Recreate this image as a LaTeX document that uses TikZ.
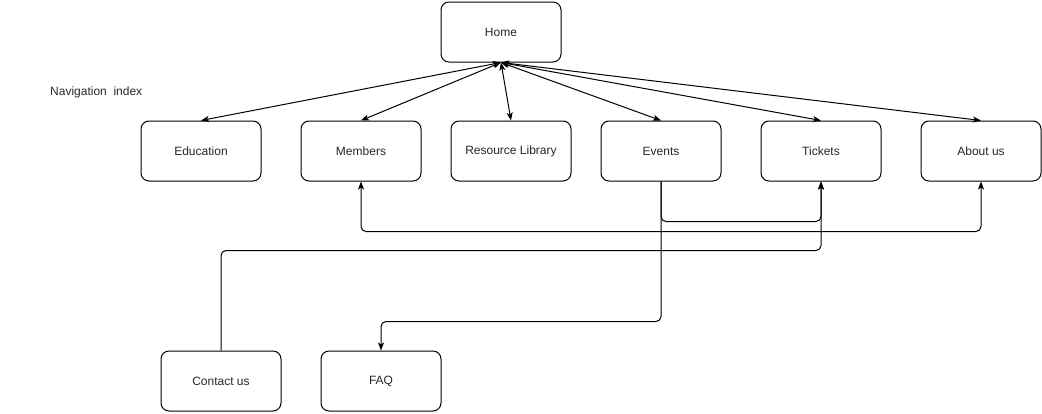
\documentclass[tikz,border=0pt]{standalone}
\usepackage{fontspec}
\setmainfont{Liberation Sans}
\usetikzlibrary{arrows.meta}
\begin{document}
\begin{tikzpicture}[x=1pt,y=-1pt,
  box/.style={draw=black,line width=1pt,rounded corners=8pt,minimum width=120pt,minimum height=60pt,inner sep=0pt,font=\fontsize{12}{14}\selectfont,text=black!85},
  conn/.style={draw=black,line width=1pt,rounded corners=5pt,arrows={-Stealth[length=8pt,width=6pt,inset=2pt]}},
  both/.style={conn,arrows={Stealth[length=8pt,width=6pt,inset=2pt]-Stealth[length=8pt,width=6pt,inset=2pt]}}]
\useasboundingbox (0,0) rectangle (1042,413);
\node[box] (home) at (501,32) {Home};
\node[box] (edu) at (201,151) {Education};
\node[box] (members) at (361,151) {Members};
\node[box] (lib) at (511,151) {Resource Library};
\node[box] (events) at (661,151) {Events};
\node[box] (tickets) at (821,151) {Tickets};
\node[box] (about) at (981,151) {About us};
\node[box] (contact) at (221,381) {Contact us};
\node[box] (faq) at (381,381) {FAQ};
\node[anchor=west,font=\fontsize{12}{14}\selectfont,text=black!85,inner sep=0pt] (nav) at (50,92) {Navigation\ \ index};
\foreach \t in {edu,members,lib,events,tickets,about}
  \draw[both] (home.south) -- (\t.north);
\draw[conn] (events.south) -- ++(0,40) -| (tickets.south);
\draw[both] (members.south) -- ++(0,50) -| (about.south);
\draw[conn] (contact.north) -- ++(0,-100) -| (tickets.south);
\draw[conn] (events.south) -- ++(0,140) -| (faq.north);
\end{tikzpicture}
\end{document}
